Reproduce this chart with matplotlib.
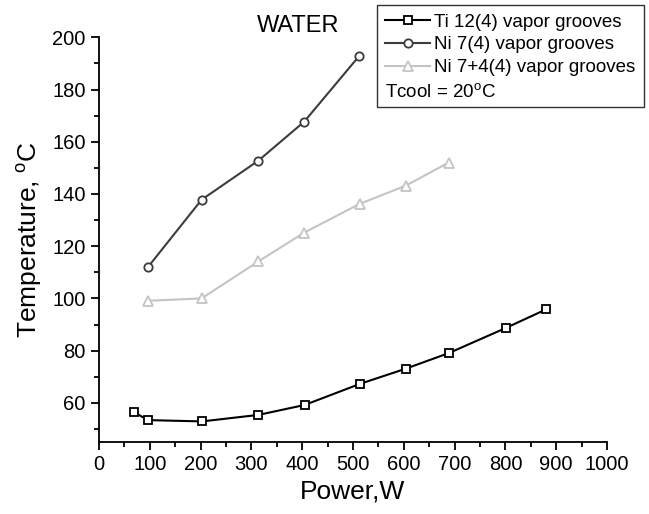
import matplotlib
matplotlib.use("Agg")
import matplotlib.pyplot as plt
from matplotlib.lines import Line2D
from matplotlib.ticker import MultipleLocator

plt.rcParams['font.family'] = ['Liberation Sans', 'DejaVu Sans']
plt.rcParams['mathtext.fontset'] = 'custom'
plt.rcParams['mathtext.rm'] = 'Liberation Sans'

# Ti 12(4) vapor grooves
ti_power = [68, 96, 203, 314, 405, 514, 604, 689, 801, 880]
ti_temp = [56.6, 53.4, 52.9, 55.4, 59.2, 67.3, 73.1, 79.1, 88.7, 95.8]

# Ni 7(4) vapor grooves
ni7_power = [96, 202, 314, 404, 512]
ni7_temp = [111.9, 137.8, 152.8, 167.7, 192.8]

# Ni 7+4(4) vapor grooves
ni74_power = [96, 202, 314, 404, 513, 604, 688]
ni74_temp = [99.1, 100.0, 114.2, 125.2, 136.2, 143.2, 152.0]

labels = ["Ti 12(4) vapor grooves", "Ni 7(4) vapor grooves", "Ni 7+4(4) vapor grooves"]

fig = plt.figure(figsize=(6.49, 5.14), dpi=100)
ax = fig.add_axes([0.1525, 0.140, 0.7828, 0.7874])

l1, = ax.plot(ti_power, ti_temp, color='black', lw=1.5, marker='s', ms=5.5,
              mfc='white', mec='black', mew=1.3)
l2, = ax.plot(ni7_power, ni7_temp, color='#3c3c3c', lw=1.5, marker='o', ms=6,
              mfc='white', mec='#3c3c3c', mew=1.3)
l3, = ax.plot(ni74_power, ni74_temp, color='#c4c4c4', lw=1.5, marker='^', ms=6.5,
              mfc='white', mec='#c4c4c4', mew=1.3)

ax.set_xlim(0, 1000)
ax.set_ylim(45, 200)
ax.xaxis.set_major_locator(MultipleLocator(100))
ax.xaxis.set_minor_locator(MultipleLocator(50))
ax.yaxis.set_major_locator(MultipleLocator(20))
ax.yaxis.set_minor_locator(MultipleLocator(10))
ax.set_yticks(range(60, 201, 20))

for side in ['top', 'right']:
    ax.spines[side].set_visible(False)
for side in ['left', 'bottom']:
    ax.spines[side].set_linewidth(1.3)
ax.tick_params(which='major', direction='out', length=6, width=1.3, labelsize=14.5)
ax.tick_params(which='minor', direction='out', length=3.5, width=1.3)

ax.set_xlabel("Power,W", fontsize=19, labelpad=4)
ax.set_ylabel(r"Temperature, $^{\rm o}$C", fontsize=19, labelpad=6)

fig.text(0.459, 0.949, "WATER", fontsize=17, ha='center', va='center')

# 4th legend row is left empty, the Tcool note is written over it
blank = Line2D([], [], color='none')
leg = fig.legend([l1, l2, l3, blank], labels + [" "], loc='upper left',
                 bbox_to_anchor=(377 / 649, 1 - 5 / 514), fontsize=13.5, frameon=True,
                 fancybox=False, edgecolor='black', handlelength=2.4,
                 handletextpad=0.2, labelspacing=0.3, borderpad=0.45,
                 borderaxespad=0.0)
leg.get_frame().set_linewidth(1.0)
fig.text(385 / 649, 1 - 93 / 514, r"Tcool = 20$^{\rm o}$C", fontsize=13.5,
         ha='left', va='center', zorder=10)

fig.savefig("out.png", dpi=100)
